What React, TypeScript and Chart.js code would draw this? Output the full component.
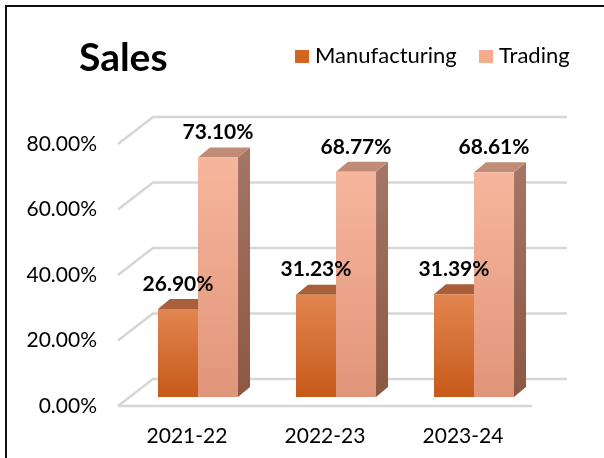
import React, { useEffect, useRef } from "react";
import { Chart, registerables } from "chart.js";

Chart.register(...registerables);

const categories = ["2021-22", "2022-23", "2023-24"];
const manufacturing = [26.9, 31.23, 31.39];
const trading = [73.1, 68.77, 68.61];
const seriesNames = ["Manufacturing", "Trading"];
const yMin = 0;
const yMax = 80;
const yStep = 20;
const chartTitle = "Sales";

const FONT = "Lato, 'Open Sans', sans-serif";

const FRONT = { dx: -11, dy: 9 };
const BACK = { dx: 24, dy: -18 };
const DEPTH = { dx: 12, dy: 10 };

const palettes = [
  {
    frontTop: "#E2854F",
    frontBottom: "#C65A1A",
    top: "#A9603A",
    sideTop: "#9A5430",
    sideBottom: "#7F4222",
    legend: "#D2651F",
  },
  {
    frontTop: "#F6B69D",
    frontBottom: "#E1957A",
    top: "#C08B77",
    sideTop: "#A47565",
    sideBottom: "#8B5843",
    legend: "#F4AC8E",
  },
];

const fmt = (v: number) => Number(v).toFixed(2) + "%";

const frontColor = (di: number) => (c: any) => {
  const p = palettes[di];
  const chart = c.chart;
  const ys = chart.scales && chart.scales.y;
  if (!ys || c.raw == null || !isFinite(ys.getPixelForValue(0))) return p.legend;
  const top = ys.getPixelForValue(c.raw);
  const base = ys.getPixelForValue(0);
  if (!isFinite(top) || !isFinite(base) || top === base) return p.legend;
  const g = chart.ctx.createLinearGradient(0, top, 0, base);
  g.addColorStop(0, p.frontTop);
  g.addColorStop(1, p.frontBottom);
  return g;
};

const threeD = {
  id: "threeD",
  beforeDraw(chart: any) {
    const ctx = chart.ctx;
    ctx.save();
    // frame
    ctx.strokeStyle = "#111";
    ctx.lineWidth = 2;
    ctx.beginPath();
    ctx.moveTo(6, chart.height);
    ctx.lineTo(6, 6);
    ctx.lineTo(chart.width, 6);
    ctx.stroke();
    // title
    ctx.fillStyle = "#000";
    ctx.font = `bold 39px ${FONT}`;
    ctx.textAlign = "left";
    ctx.textBaseline = "middle";
    ctx.fillText(chartTitle, 79, 58);
    // legend
    const legendX = [295, 479];
    ctx.font = `22px ${FONT}`;
    seriesNames.forEach((name, i) => {
      ctx.fillStyle = palettes[i].legend;
      ctx.fillRect(legendX[i], 50, 14, 13);
      ctx.fillStyle = "#000";
      ctx.fillText(name, legendX[i] + 20, 56);
    });
    ctx.restore();
  },
  beforeDatasetsDraw(chart: any) {
    const ctx = chart.ctx;
    const { left, right } = chart.chartArea;
    const ys = chart.scales.y;
    ctx.save();
    ctx.strokeStyle = "#D6D6D6";
    ctx.lineWidth = 2.5;
    for (let v = yMin; v <= yMax; v += yStep) {
      const py = ys.getPixelForValue(v);
      ctx.beginPath();
      ctx.moveTo(left + FRONT.dx, py + FRONT.dy);
      ctx.lineTo(left + BACK.dx, py + BACK.dy);
      ctx.lineTo(right + BACK.dx, py + BACK.dy);
      ctx.stroke();
    }
    const p0 = ys.getPixelForValue(yMin);
    ctx.beginPath();
    ctx.moveTo(left + FRONT.dx, p0 + FRONT.dy);
    ctx.lineTo(right + FRONT.dx, p0 + FRONT.dy);
    ctx.stroke();

    chart.data.datasets.forEach((_: any, di: number) => {
      const p = palettes[di];
      const meta = chart.getDatasetMeta(di);
      meta.data.forEach((bar: any) => {
        const { x, y, base, width } = bar.getProps(["x", "y", "base", "width"], true);
        const l = x - width / 2;
        const r = x + width / 2;
        const sg = ctx.createLinearGradient(0, y, 0, base);
        sg.addColorStop(0, p.sideTop);
        sg.addColorStop(1, p.sideBottom);
        ctx.fillStyle = sg;
        ctx.beginPath();
        ctx.moveTo(r, y);
        ctx.lineTo(r + DEPTH.dx, y - DEPTH.dy);
        ctx.lineTo(r + DEPTH.dx, base - DEPTH.dy);
        ctx.lineTo(r, base);
        ctx.closePath();
        ctx.fill();
        ctx.fillStyle = p.top;
        ctx.beginPath();
        ctx.moveTo(l, y);
        ctx.lineTo(r, y);
        ctx.lineTo(r + DEPTH.dx, y - DEPTH.dy);
        ctx.lineTo(l + DEPTH.dx, y - DEPTH.dy);
        ctx.closePath();
        ctx.fill();
      });
    });
    ctx.restore();
  },
  afterDatasetsDraw(chart: any) {
    const ctx = chart.ctx;
    ctx.save();
    ctx.fillStyle = "#000";
    ctx.font = `bold 21px ${FONT}`;
    ctx.textAlign = "center";
    ctx.textBaseline = "middle";
    chart.data.datasets.forEach((ds: any, di: number) => {
      const meta = chart.getDatasetMeta(di);
      meta.data.forEach((bar: any, i: number) => {
        const { x, y } = bar.getProps(["x", "y"], true);
        ctx.fillText(fmt(ds.data[i]), x, y - 25);
      });
    });
    ctx.restore();
  },
};

export default function App() {
  const ref = useRef<HTMLCanvasElement | null>(null);
  useEffect(() => {
    if (!ref.current) return;
    const chart = new Chart(ref.current, {
      type: "bar",
      data: {
        labels: categories,
        datasets: [
          {
            label: seriesNames[0],
            data: manufacturing,
            backgroundColor: frontColor(0),
            borderWidth: 0,
            categoryPercentage: 0.58,
            barPercentage: 1,
          },
          {
            label: seriesNames[1],
            data: trading,
            backgroundColor: frontColor(1),
            borderWidth: 0,
            categoryPercentage: 0.58,
            barPercentage: 1,
          },
        ],
      },
      options: {
        responsive: false,
        animation: false,
        layout: { padding: { top: 135, left: 0, right: 61, bottom: 0 } },
        plugins: {
          legend: { display: false },
          title: { display: false },
          tooltip: { enabled: false },
        },
        scales: {
          x: {
            grid: { display: false, drawTicks: false },
            border: { display: false },
            ticks: {
              font: { family: FONT, size: 21 },
              color: "#000",
              padding: 27,
              labelOffset: -11,
              maxRotation: 0,
            },
            afterFit: (s: any) => {
              s.height = 61;
            },
          },
          y: {
            min: yMin,
            max: yMax,
            grid: { display: false, drawTicks: false },
            border: { display: false },
            ticks: {
              stepSize: yStep,
              font: { family: FONT, size: 21 },
              color: "#000",
              padding: 32,
              labelOffset: 9,
              callback: (v: any) => fmt(v),
            },
            afterFit: (s: any) => {
              s.width = 129;
            },
          },
        },
      } as any,
      plugins: [threeD],
    });
    return () => chart.destroy();
  }, []);
  return (
    <div style={{ position: "absolute", left: 0, top: 0, width: 604, height: 458, background: "#fff" }}>
      <canvas ref={ref} width={604} height={458} style={{ display: "block" }} />
    </div>
  );
}
